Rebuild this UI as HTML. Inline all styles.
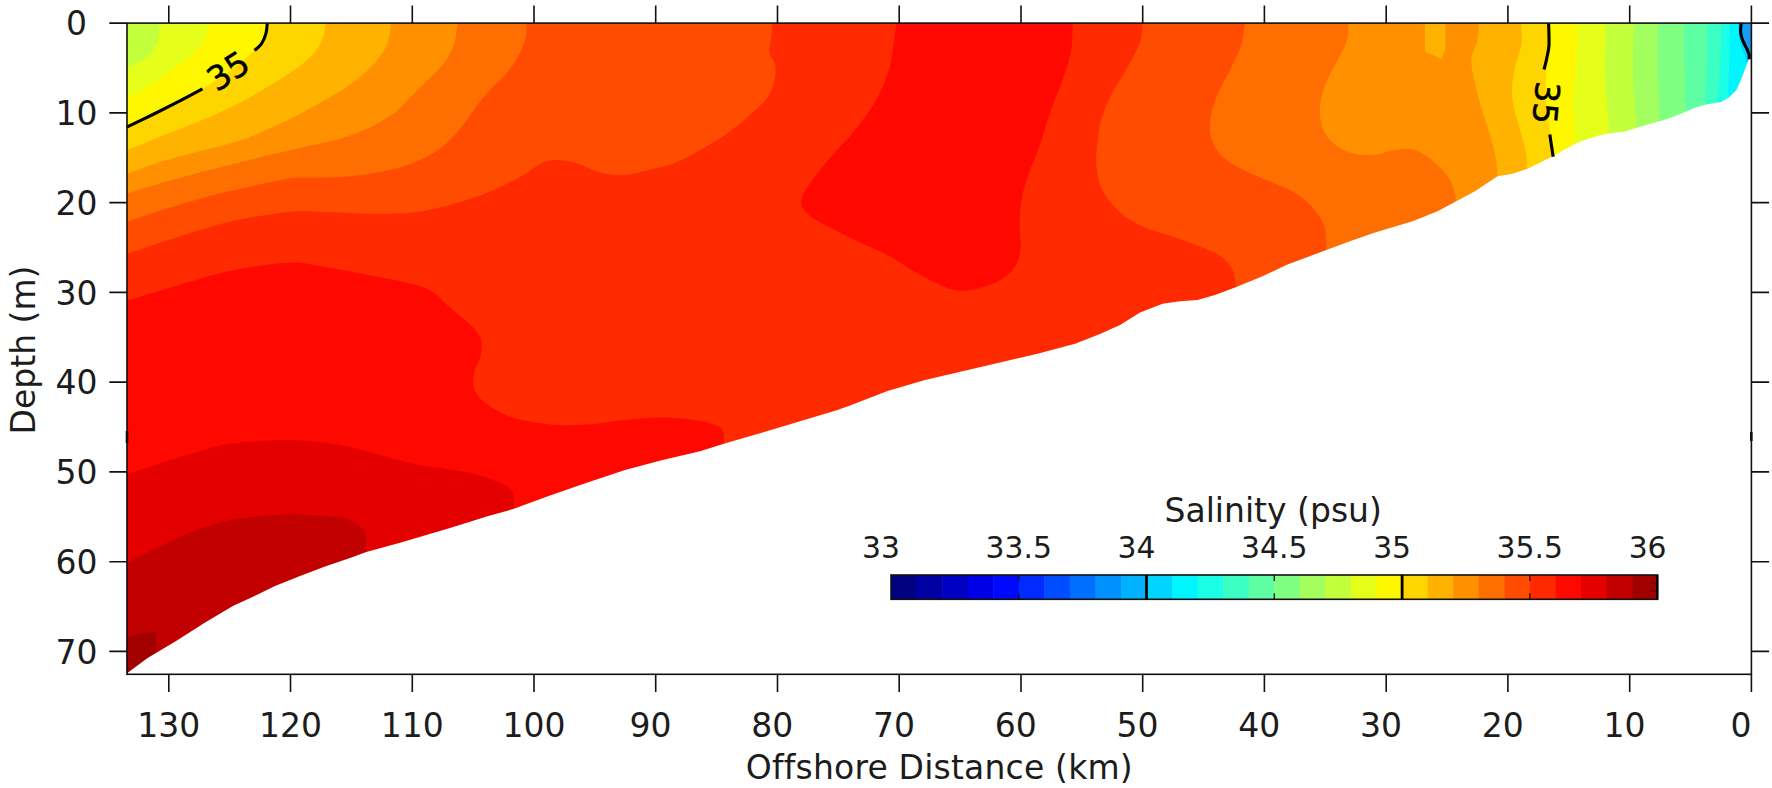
<!DOCTYPE html>
<html><head><meta charset="utf-8"><title>Salinity section</title>
<style>
html,body{margin:0;padding:0;background:#fff;}
body{width:1772px;height:788px;overflow:hidden;}
svg{display:block;}
text{font-family:"DejaVu Sans","Liberation Sans",sans-serif;font-size:33px;fill:#1c1c1c;}
</style></head><body>
<svg width="1772" height="788" viewBox="0 0 1772 788">
<rect width="1772" height="788" fill="#fff"/>
<g>
<rect x="100" y="0" width="1700" height="700" fill="#FF2A00"/>
<path d="M126.7 300.5C132.7 298.8 150.3 293.6 162.5 290.0C174.7 286.4 187.5 282.2 200.0 278.8C212.5 275.4 222.5 272.2 237.5 269.5C252.5 266.8 275.4 262.9 290.0 262.5C304.6 262.1 310.8 264.7 325.0 267.0C339.2 269.3 358.3 272.8 375.0 276.3C391.7 279.8 412.5 282.8 425.0 288.0C437.5 293.2 441.2 300.1 450.0 307.5C458.8 314.9 472.3 325.0 477.5 332.5C482.7 340.0 481.9 345.6 481.3 352.5C480.7 359.4 474.9 367.4 473.8 373.8C472.8 380.2 472.6 385.8 475.0 391.0C477.4 396.2 481.8 400.6 488.0 405.0C494.2 409.4 502.2 414.2 512.5 417.5C522.8 420.8 537.5 423.3 550.0 424.5C562.5 425.7 575.0 425.2 587.5 424.5C600.0 423.8 612.5 421.2 625.0 420.0C637.5 418.8 650.8 417.5 662.5 417.5C674.2 417.5 686.2 418.8 695.0 420.0C703.8 421.2 710.4 423.3 715.0 425.0C719.6 426.7 721.0 427.1 722.5 430.0C724.0 432.9 723.6 439.2 723.8 442.5C724.0 445.8 723.8 448.8 723.8 450.0L723.8 720.0L107.0 720.0L107.0 300.5Z" fill="#FF0800"/>
<path d="M126.7 474.5C132.7 472.5 150.3 466.4 162.5 462.5C174.7 458.6 188.8 454.4 200.0 451.3C211.2 448.2 215.4 445.7 230.0 443.8C244.6 441.9 269.6 439.9 287.5 440.0C305.4 440.1 322.9 442.2 337.5 444.5C352.1 446.8 362.5 450.6 375.0 453.8C387.5 457.0 400.0 461.2 412.5 463.8C425.0 466.4 439.6 467.8 450.0 469.5C460.4 471.2 466.7 471.8 475.0 474.0C483.3 476.2 493.8 480.1 500.0 483.0C506.2 485.9 510.2 488.2 512.5 491.5C514.8 494.8 513.6 498.6 513.8 502.5C514.0 506.4 513.8 512.9 513.8 515.0L513.8 720.0L107.0 720.0L107.0 474.5Z" fill="#E50000"/>
<path d="M126.7 563.0C132.7 560.0 150.3 550.7 162.5 545.0C174.7 539.3 187.5 533.2 200.0 528.8C212.5 524.4 222.9 521.2 237.5 518.8C252.1 516.4 270.8 514.8 287.5 514.5C304.2 514.2 326.2 515.7 337.5 517.0C348.8 518.3 350.4 519.9 355.0 522.5C359.6 525.1 363.1 528.8 365.0 532.5C366.9 536.2 366.1 540.8 366.3 545.0C366.5 549.2 366.3 555.8 366.3 558.0L366.3 720.0L107.0 720.0L107.0 563.0Z" fill="#C30000"/>
<path d="M126.7 637.0C128.6 636.5 133.2 635.0 138.0 634.2C142.8 633.4 152.2 631.5 155.2 632.3C158.2 633.1 156.0 634.4 156.2 639.0C156.4 643.6 156.2 656.5 156.2 660.0L156.2 720.0L107.0 720.0L107.0 637.0Z" fill="#A20000"/>
<path d="M896.3 23.0C895.9 26.2 895.0 34.7 893.8 42.5C892.6 50.3 892.1 60.1 889.0 70.0C885.9 79.9 880.7 92.0 875.0 102.0C869.3 112.0 862.1 121.2 855.0 130.0C847.9 138.8 839.6 146.7 832.5 155.0C825.4 163.3 817.7 172.5 812.5 180.0C807.3 187.5 802.1 194.4 801.3 200.0C800.5 205.6 803.5 209.6 807.5 213.8C811.5 218.0 815.8 220.0 825.0 225.0C834.2 230.0 852.1 238.8 862.5 243.8C872.9 248.8 877.1 249.4 887.5 255.0C897.9 260.6 913.3 271.6 925.0 277.5C936.7 283.4 946.7 289.2 957.5 290.5C968.3 291.8 980.8 288.4 990.0 285.0C999.2 281.6 1007.4 275.8 1012.5 270.0C1017.6 264.2 1019.3 257.9 1020.5 250.0C1021.7 242.1 1019.2 231.7 1019.5 222.5C1019.8 213.3 1020.8 203.8 1022.5 195.0C1024.2 186.2 1027.1 178.3 1030.0 170.0C1032.9 161.7 1036.7 154.6 1040.0 145.0C1043.3 135.4 1046.2 123.3 1050.0 112.5C1053.8 101.7 1059.0 90.4 1062.5 80.0C1066.0 69.6 1069.6 59.5 1071.3 50.0C1073.0 40.5 1072.3 27.5 1072.5 23.0L1072.5 0.0L896.3 0.0Z" fill="#FF0800"/>
<path d="M126.7 254.0C132.7 252.0 150.3 246.0 162.5 242.0C174.7 238.0 187.5 233.7 200.0 230.0C212.5 226.3 225.0 222.7 237.5 220.0C250.0 217.3 264.6 215.2 275.0 213.8C285.4 212.4 289.6 211.5 300.0 211.3C310.4 211.1 325.0 212.1 337.5 212.5C350.0 212.9 362.5 213.8 375.0 213.8C387.5 213.8 400.0 214.0 412.5 212.5C425.0 211.0 437.5 208.3 450.0 205.0C462.5 201.7 475.8 197.2 487.5 192.5C499.2 187.8 510.2 182.2 520.0 177.0C529.8 171.8 537.8 163.8 546.5 161.3C555.2 158.8 563.6 160.1 572.5 162.0C581.4 163.9 591.2 170.3 600.0 172.5C608.8 174.7 616.7 175.5 625.0 175.0C633.3 174.5 641.7 171.5 650.0 169.5C658.3 167.5 666.7 166.2 675.0 163.0C683.3 159.8 691.7 154.7 700.0 150.0C708.3 145.3 716.7 140.8 725.0 135.0C733.3 129.2 742.9 121.2 750.0 115.0C757.1 108.8 763.4 103.3 767.5 97.5C771.6 91.7 773.2 85.4 774.5 80.0C775.8 74.6 775.8 69.6 775.0 65.0C774.2 60.4 770.1 57.1 769.5 52.5C768.9 47.9 770.8 42.4 771.3 37.5C771.8 32.6 772.3 25.4 772.5 23.0L772.5 0.0L107.0 0.0L107.0 254.0Z" fill="#FF4C00"/>
<path d="M126.7 222.0C132.7 220.0 150.3 213.9 162.5 210.0C174.7 206.1 187.1 202.3 200.0 198.8C212.9 195.3 227.5 191.7 240.0 188.8C252.5 185.9 265.8 183.1 275.0 181.3C284.2 179.5 286.7 178.6 295.0 178.0C303.3 177.4 313.8 178.0 325.0 177.5C336.2 177.0 350.0 176.7 362.5 175.0C375.0 173.3 388.8 170.8 400.0 167.5C411.2 164.2 421.7 159.6 430.0 155.0C438.3 150.4 444.2 145.4 450.0 140.0C455.8 134.6 460.4 128.3 465.0 122.5C469.6 116.7 473.3 110.4 477.5 105.0C481.7 99.6 485.4 95.0 490.0 90.0C494.6 85.0 500.4 80.4 505.0 75.0C509.6 69.6 514.2 63.3 517.5 57.5C520.8 51.7 523.5 45.8 525.0 40.0C526.5 34.2 526.2 25.8 526.5 23.0L526.5 0.0L107.0 0.0L107.0 222.0Z" fill="#FF6E00"/>
<path d="M126.7 193.8C132.7 191.9 150.3 186.1 162.5 182.5C174.7 178.9 187.1 175.8 200.0 172.5C212.9 169.2 226.7 165.8 240.0 162.5C253.3 159.2 267.9 155.4 280.0 152.5C292.1 149.6 302.5 147.3 312.5 145.0C322.5 142.7 330.4 141.7 340.0 138.8C349.6 135.9 360.8 131.9 370.0 127.5C379.2 123.1 388.8 117.1 395.0 112.5C401.2 107.9 402.5 105.0 407.5 100.0C412.5 95.0 419.2 88.3 425.0 82.5C430.8 76.7 437.7 71.2 442.5 65.0C447.3 58.8 451.3 52.0 453.8 45.0C456.3 38.0 456.9 26.7 457.5 23.0L457.5 0.0L107.0 0.0L107.0 193.8Z" fill="#FF9100"/>
<path d="M126.7 173.8C132.7 171.7 150.3 165.1 162.5 161.3C174.7 157.5 190.2 153.6 200.0 151.0C209.8 148.4 213.8 148.2 221.6 146.0C229.4 143.8 238.5 141.2 247.0 138.0C255.5 134.8 263.9 130.8 272.4 127.0C280.9 123.2 289.4 119.3 297.8 115.0C306.2 110.7 315.2 105.5 323.1 101.0C331.0 96.5 338.1 92.8 345.2 88.0C352.3 83.2 359.6 77.4 365.5 72.0C371.4 66.6 376.9 60.9 380.7 55.6C384.5 50.3 386.6 45.8 388.3 40.4C390.0 35.0 390.5 25.9 390.9 23.0L390.9 0.0L107.0 0.0L107.0 173.8Z" fill="#FFB300"/>
<path d="M126.7 150.5C130.1 149.1 139.7 145.0 147.0 142.0C154.3 139.0 162.6 135.8 170.8 132.5C179.0 129.2 187.7 126.0 196.2 122.5C204.7 119.0 213.1 115.4 221.6 111.5C230.1 107.6 238.5 103.6 247.0 99.0C255.5 94.4 263.9 89.2 272.4 84.0C280.9 78.8 290.8 72.8 297.8 67.5C304.9 62.2 310.5 57.3 314.7 52.2C318.9 47.1 321.3 41.9 323.1 37.0C324.9 32.1 325.3 25.3 325.7 23.0L325.7 0.0L107.0 0.0L107.0 150.5Z" fill="#FFD500"/>
<path d="M126.7 127.2C131.2 125.0 145.1 118.3 153.9 114.0C162.7 109.7 171.3 105.4 179.3 101.2C187.3 97.0 193.9 93.9 202.1 89.0C210.3 84.1 219.6 78.4 228.3 72.0C237.1 65.6 249.1 55.2 254.6 50.5C260.1 45.8 259.5 46.6 261.4 43.8C263.3 41.0 264.9 37.1 265.9 33.6C266.9 30.1 267.1 24.8 267.3 23.0L267.3 0.0L107.0 0.0L107.0 127.2Z" fill="#FFF700"/>
<path d="M126.7 99.0C128.4 98.0 132.5 95.6 137.0 92.9C141.5 90.2 148.3 86.4 153.9 82.7C159.5 79.0 165.8 74.6 170.8 70.9C175.8 67.2 179.8 64.1 184.0 60.7C188.2 57.3 192.4 54.5 196.0 50.5C199.6 46.5 203.5 41.6 205.5 37.0C207.5 32.4 207.6 25.3 208.0 23.0L208.0 0.0L107.0 0.0L107.0 99.0Z" fill="#E5FF1A"/>
<path d="M126.7 67.0C127.2 66.8 127.5 67.0 130.0 66.0C132.6 65.0 138.3 63.0 142.0 60.7C145.7 58.4 149.3 55.4 152.0 52.0C154.7 48.6 156.7 45.2 158.0 40.4C159.3 35.6 159.5 25.9 159.8 23.0L159.8 0.0L107.0 0.0L107.0 67.0Z" fill="#C3FF3C"/>
<path d="M1142.5 23.0C1142.1 26.2 1142.5 35.1 1140.0 42.5C1137.5 49.9 1132.5 58.3 1127.5 67.5C1122.5 76.7 1114.6 87.9 1110.0 97.5C1105.4 107.1 1102.2 115.4 1100.0 125.0C1097.8 134.6 1097.0 147.5 1096.5 155.0C1096.0 162.5 1096.0 164.2 1097.0 170.0C1098.0 175.8 1098.7 182.9 1102.5 190.0C1106.3 197.1 1112.9 206.2 1120.0 212.5C1127.1 218.8 1135.8 223.3 1145.0 227.5C1154.2 231.7 1165.0 234.0 1175.0 237.5C1185.0 241.0 1197.2 245.2 1205.0 248.5C1212.8 251.8 1217.4 253.4 1222.0 257.0C1226.6 260.6 1230.2 265.3 1232.5 270.0C1234.8 274.7 1235.4 280.8 1236.0 285.0C1236.6 289.2 1236.0 293.3 1236.0 295.0L1236.0 720.0L1800.0 720.0L1800.0 0.0L1142.5 0.0Z" fill="#FF4C00"/>
<path d="M1245.0 23.0C1244.4 26.7 1243.8 37.2 1241.3 45.0C1238.8 52.8 1234.2 61.2 1230.0 70.0C1225.8 78.8 1219.6 88.8 1216.3 97.5C1213.0 106.2 1210.4 114.6 1210.0 122.5C1209.6 130.4 1210.5 138.3 1213.8 145.0C1217.1 151.7 1222.3 157.1 1230.0 162.5C1237.7 167.9 1249.6 172.7 1260.0 177.5C1270.4 182.3 1283.8 186.5 1292.5 191.5C1301.2 196.5 1307.3 201.9 1312.5 207.5C1317.7 213.1 1321.5 219.2 1323.8 225.0C1326.1 230.8 1325.9 237.0 1326.3 242.5C1326.7 248.0 1326.3 255.4 1326.3 258.0L1326.3 720.0L1800.0 720.0L1800.0 0.0L1245.0 0.0Z" fill="#FF6E00"/>
<path d="M1348.8 23.0C1348.4 26.2 1348.4 35.9 1346.3 42.5C1344.2 49.1 1339.8 55.4 1336.3 62.5C1332.8 69.6 1327.7 77.5 1325.0 85.0C1322.3 92.5 1320.4 100.4 1320.0 107.5C1319.6 114.6 1320.4 121.7 1322.5 127.5C1324.6 133.3 1327.9 138.3 1332.5 142.5C1337.1 146.7 1343.3 150.4 1350.0 152.5C1356.7 154.6 1365.0 155.4 1372.5 155.0C1380.0 154.6 1388.3 150.9 1395.0 150.0C1401.7 149.1 1407.5 148.7 1412.5 149.5C1417.5 150.3 1420.4 152.0 1425.0 155.0C1429.6 158.0 1435.8 163.3 1440.0 167.5C1444.2 171.7 1447.5 175.4 1450.0 180.0C1452.5 184.6 1454.0 190.0 1455.0 195.0C1456.0 200.0 1456.1 207.5 1456.3 210.0L1456.3 720.0L1800.0 720.0L1800.0 0.0L1348.8 0.0Z" fill="#FF9100"/>
<path d="M1425.0 23.0L1445.2 23.0L1445.2 50.0L1441.3 58.8L1425.0 51.5Z" fill="#FFB300"/>
<path d="M1478.8 23.0C1478.6 25.8 1478.8 33.8 1477.5 40.0C1476.2 46.2 1471.7 52.9 1471.3 60.0C1470.9 67.1 1473.3 74.6 1475.0 82.5C1476.7 90.4 1478.8 98.8 1481.3 107.5C1483.8 116.2 1487.5 126.2 1490.0 135.0C1492.5 143.8 1495.0 151.7 1496.3 160.0C1497.5 168.3 1497.3 180.8 1497.5 185.0L1497.5 720.0L1800.0 720.0L1800.0 0.0L1478.8 0.0Z" fill="#FFB300"/>
<path d="M1521.3 23.0C1521.3 26.7 1522.5 36.8 1521.3 45.0C1520.0 53.2 1515.3 63.3 1513.8 72.5C1512.3 81.7 1511.5 90.4 1512.5 100.0C1513.5 109.6 1517.7 120.8 1520.0 130.0C1522.3 139.2 1525.0 146.7 1526.3 155.0C1527.5 163.3 1527.3 175.8 1527.5 180.0L1527.5 720.0L1800.0 720.0L1800.0 0.0L1521.3 0.0Z" fill="#FFD500"/>
<path d="M1548.8 23.0C1548.9 26.7 1549.9 36.8 1549.5 45.0C1549.1 53.2 1547.1 62.8 1546.5 72.0C1545.9 81.2 1545.3 89.7 1546.0 100.0C1546.7 110.3 1549.3 124.4 1550.5 133.8C1551.7 143.2 1552.6 151.1 1553.0 156.3C1553.4 161.5 1553.0 163.6 1553.0 165.0L1553.0 720.0L1800.0 720.0L1800.0 0.0L1548.8 0.0Z" fill="#FFF700"/>
<path d="M1577.5 23.0C1577.3 29.6 1577.1 49.7 1576.3 62.5C1575.5 75.3 1572.7 88.8 1572.5 100.0C1572.3 111.2 1574.6 121.7 1575.0 130.0C1575.4 138.3 1575.0 146.7 1575.0 150.0L1575.0 720.0L1800.0 720.0L1800.0 0.0L1577.5 0.0Z" fill="#E5FF1A"/>
<path d="M1606.3 23.0C1606.1 31.7 1604.6 58.0 1605.0 75.0C1605.4 92.0 1608.2 114.2 1608.8 125.0C1609.4 135.8 1608.8 137.5 1608.8 140.0L1608.8 720.0L1800.0 720.0L1800.0 0.0L1606.3 0.0Z" fill="#C3FF3C"/>
<path d="M1634.0 23.0C1633.8 31.7 1632.6 58.0 1633.0 75.0C1633.4 92.0 1635.8 115.0 1636.3 125.0C1636.8 135.0 1636.3 133.3 1636.3 135.0L1636.3 720.0L1800.0 720.0L1800.0 0.0L1634.0 0.0Z" fill="#A2FF5E"/>
<path d="M1657.8 23.0C1657.8 31.7 1657.1 58.0 1657.5 75.0C1657.9 92.0 1659.6 116.7 1660.0 125.0L1660.0 720.0L1800.0 720.0L1800.0 0.0L1657.8 0.0Z" fill="#80FF80"/>
<path d="M1684.0 23.0C1684.1 30.8 1684.2 54.2 1684.5 70.0C1684.8 85.8 1685.8 110.0 1686.0 118.0L1686.0 720.0L1800.0 720.0L1800.0 0.0L1684.0 0.0Z" fill="#5EFFA2"/>
<path d="M1706.9 23.0C1706.8 29.2 1706.8 45.8 1706.5 60.0C1706.2 74.2 1705.2 100.0 1705.0 108.0L1705.0 720.0L1800.0 720.0L1800.0 0.0L1706.9 0.0Z" fill="#3CFFC3"/>
<path d="M1721.7 23.0C1721.5 29.2 1721.3 46.5 1720.5 60.0C1719.7 73.5 1717.6 96.7 1717.0 104.0L1717.0 720.0L1800.0 720.0L1800.0 0.0L1721.7 0.0Z" fill="#1AFFE5"/>
<path d="M1729.7 23.0C1729.7 28.3 1729.8 42.2 1729.5 55.0C1729.2 67.8 1728.2 92.5 1728.0 100.0L1728.0 720.0L1800.0 720.0L1800.0 0.0L1729.7 0.0Z" fill="#00F6FF"/>
<path d="M1738.6 23.0C1738.6 25.0 1738.2 31.2 1738.6 35.0C1739.0 38.8 1739.9 42.3 1741.0 46.0C1742.1 49.7 1744.0 53.7 1745.0 57.0C1746.0 60.3 1746.7 64.5 1747.0 66.0L1747.0 720.0L1800.0 720.0L1800.0 0.0L1738.6 0.0Z" fill="#00D4FF"/>
<path d="M1741.1 23.0C1741.0 24.6 1740.4 29.9 1740.7 32.9C1741.0 35.9 1741.9 38.2 1742.9 40.9C1743.9 43.6 1745.9 46.6 1746.9 48.9C1747.9 51.2 1748.7 52.9 1749.1 54.6C1749.5 56.3 1749.2 58.5 1749.2 59.3L1749.2 720.0L1800.0 720.0L1800.0 0.0L1741.1 0.0Z" fill="#1A9BF6"/>
</g>
<path d="M-10 -10H1790V800H-10Z M127.0 23.1L1751.4 23.1L1751.4 53.0L1751.4 53.0L1748.5 60.0L1745.3 68.3L1741.5 78.5L1736.5 89.9L1728.8 97.5L1721.2 101.9L1706.0 104.5L1694.6 107.7L1681.7 113.5L1666.5 119.3L1643.9 125.5L1625.0 131.4L1604.5 134.0L1587.6 139.0L1575.0 143.8L1553.0 156.3L1527.5 168.8L1512.5 173.8L1497.5 176.3L1475.0 191.3L1456.3 201.3L1437.5 211.3L1412.5 221.3L1375.0 232.5L1350.0 241.3L1326.3 250.0L1287.5 264.5L1262.5 276.3L1236.3 287.0L1215.0 295.0L1197.5 300.0L1180.0 301.3L1162.5 303.8L1140.0 312.5L1120.0 325.0L1100.0 334.0L1075.0 343.8L1037.5 353.8L1000.0 362.5L962.5 371.3L925.0 380.0L887.5 391.0L850.0 405.5L837.5 410.0L800.0 421.3L762.5 432.5L723.8 443.8L700.0 451.3L662.5 460.0L625.0 470.0L587.5 482.5L550.0 495.5L513.8 508.8L487.5 516.3L450.0 528.0L400.0 542.7L366.3 552.0L350.0 558.0L325.0 566.5L300.0 576.0L275.0 586.0L252.5 597.0L233.3 605.7L204.7 622.8L176.1 640.9L147.6 658.0L126.7 673.5Z" fill="#fff" fill-rule="evenodd"/>
<g><path d="M126.7 127.2C131.2 125.0 145.1 118.3 153.9 114.0C162.7 109.7 171.2 105.4 179.3 101.2C187.4 97.0 198.6 90.9 202.5 88.8" fill="none" stroke="#000" stroke-width="3.1"/>
<path d="M254.6 50.5C255.7 49.4 259.5 46.6 261.4 43.8C263.3 41.0 264.9 37.1 265.9 33.6C266.9 30.1 267.1 24.8 267.3 23.0" fill="none" stroke="#000" stroke-width="3.1"/>
<path d="M1548.6 23.0C1548.7 26.7 1549.3 39.2 1549.0 45.0C1548.7 50.8 1547.6 53.9 1546.8 58.0C1546.0 62.1 1544.5 67.6 1544.0 69.5" fill="none" stroke="#000" stroke-width="3.1"/>
<path d="M1549.8 134.5C1550.4 138.2 1552.6 153.1 1553.2 156.8" fill="none" stroke="#000" stroke-width="3.1"/>
<path d="M1741.1 23.0C1741.0 24.6 1740.4 29.9 1740.7 32.9C1741.0 35.9 1741.9 38.2 1742.9 40.9C1743.9 43.6 1745.9 46.6 1746.9 48.9C1747.9 51.2 1748.7 52.9 1749.1 54.6C1749.5 56.3 1749.2 58.5 1749.2 59.3" fill="none" stroke="#000" stroke-width="3.1"/></g>
<g><rect x="127.0" y="23.1" width="1624.4" height="651.2" fill="none" stroke="#111" stroke-width="1.6"/>
<path d="M1751.4 23.1V5.4M1751.4 674.3V692.0" stroke="#111" stroke-width="1.6"/>
<path d="M1629.7 23.1V5.4M1629.7 674.3V692.0" stroke="#111" stroke-width="1.6"/>
<path d="M1507.9 23.1V5.4M1507.9 674.3V692.0" stroke="#111" stroke-width="1.6"/>
<path d="M1386.2 23.1V5.4M1386.2 674.3V692.0" stroke="#111" stroke-width="1.6"/>
<path d="M1264.4 23.1V5.4M1264.4 674.3V692.0" stroke="#111" stroke-width="1.6"/>
<path d="M1142.7 23.1V5.4M1142.7 674.3V692.0" stroke="#111" stroke-width="1.6"/>
<path d="M1021.0 23.1V5.4M1021.0 674.3V692.0" stroke="#111" stroke-width="1.6"/>
<path d="M899.2 23.1V5.4M899.2 674.3V692.0" stroke="#111" stroke-width="1.6"/>
<path d="M777.5 23.1V5.4M777.5 674.3V692.0" stroke="#111" stroke-width="1.6"/>
<path d="M655.7 23.1V5.4M655.7 674.3V692.0" stroke="#111" stroke-width="1.6"/>
<path d="M534.0 23.1V5.4M534.0 674.3V692.0" stroke="#111" stroke-width="1.6"/>
<path d="M412.3 23.1V5.4M412.3 674.3V692.0" stroke="#111" stroke-width="1.6"/>
<path d="M290.5 23.1V5.4M290.5 674.3V692.0" stroke="#111" stroke-width="1.6"/>
<path d="M168.8 23.1V5.4M168.8 674.3V692.0" stroke="#111" stroke-width="1.6"/>
<path d="M127.0 23.1H109.3M1751.4 23.1H1769.1" stroke="#111" stroke-width="1.6"/>
<path d="M127.0 112.9H109.3M1751.4 112.9H1769.1" stroke="#111" stroke-width="1.6"/>
<path d="M127.0 202.6H109.3M1751.4 202.6H1769.1" stroke="#111" stroke-width="1.6"/>
<path d="M127.0 292.4H109.3M1751.4 292.4H1769.1" stroke="#111" stroke-width="1.6"/>
<path d="M127.0 382.1H109.3M1751.4 382.1H1769.1" stroke="#111" stroke-width="1.6"/>
<path d="M127.0 471.9H109.3M1751.4 471.9H1769.1" stroke="#111" stroke-width="1.6"/>
<path d="M127.0 561.7H109.3M1751.4 561.7H1769.1" stroke="#111" stroke-width="1.6"/>
<path d="M127.0 651.4H109.3M1751.4 651.4H1769.1" stroke="#111" stroke-width="1.6"/>
<rect x="125.7" y="431" width="2.6" height="12" fill="#111"/>
<rect x="1750" y="432" width="2.6" height="9" fill="#111"/></g>
<g><rect x="891.00" y="575.0" width="26.05" height="24.3" fill="#000080"/>
<rect x="916.55" y="575.0" width="26.05" height="24.3" fill="#0000A2"/>
<rect x="942.11" y="575.0" width="26.05" height="24.3" fill="#0000C3"/>
<rect x="967.66" y="575.0" width="26.05" height="24.3" fill="#0000E6"/>
<rect x="993.21" y="575.0" width="26.05" height="24.3" fill="#0008FF"/>
<rect x="1018.77" y="575.0" width="26.05" height="24.3" fill="#002AFF"/>
<rect x="1044.32" y="575.0" width="26.05" height="24.3" fill="#004DFF"/>
<rect x="1069.87" y="575.0" width="26.05" height="24.3" fill="#006EFF"/>
<rect x="1095.43" y="575.0" width="26.05" height="24.3" fill="#0090FF"/>
<rect x="1120.98" y="575.0" width="26.05" height="24.3" fill="#00B2FF"/>
<rect x="1146.53" y="575.0" width="26.05" height="24.3" fill="#00D4FF"/>
<rect x="1172.09" y="575.0" width="26.05" height="24.3" fill="#00F6FF"/>
<rect x="1197.64" y="575.0" width="26.05" height="24.3" fill="#1AFFE5"/>
<rect x="1223.19" y="575.0" width="26.05" height="24.3" fill="#3CFFC3"/>
<rect x="1248.75" y="575.0" width="26.05" height="24.3" fill="#5EFFA2"/>
<rect x="1274.30" y="575.0" width="26.05" height="24.3" fill="#80FF80"/>
<rect x="1299.85" y="575.0" width="26.05" height="24.3" fill="#A2FF5E"/>
<rect x="1325.41" y="575.0" width="26.05" height="24.3" fill="#C3FF3C"/>
<rect x="1350.96" y="575.0" width="26.05" height="24.3" fill="#E5FF1A"/>
<rect x="1376.51" y="575.0" width="26.05" height="24.3" fill="#FFF700"/>
<rect x="1402.07" y="575.0" width="26.05" height="24.3" fill="#FFD500"/>
<rect x="1427.62" y="575.0" width="26.05" height="24.3" fill="#FFB300"/>
<rect x="1453.17" y="575.0" width="26.05" height="24.3" fill="#FF9100"/>
<rect x="1478.73" y="575.0" width="26.05" height="24.3" fill="#FF6E00"/>
<rect x="1504.28" y="575.0" width="26.05" height="24.3" fill="#FF4C00"/>
<rect x="1529.83" y="575.0" width="26.05" height="24.3" fill="#FF2A00"/>
<rect x="1555.39" y="575.0" width="26.05" height="24.3" fill="#FF0800"/>
<rect x="1580.94" y="575.0" width="26.05" height="24.3" fill="#E50000"/>
<rect x="1606.49" y="575.0" width="26.05" height="24.3" fill="#C30000"/>
<rect x="1632.05" y="575.0" width="25.55" height="24.3" fill="#A20000"/>
<rect x="891.0" y="575.0" width="766.6" height="24.3" fill="none" stroke="#111" stroke-width="1.6"/>
<path d="M1018.8 575.0V581.0M1018.8 599.3V593.3" stroke="#111" stroke-width="1.3"/>
<path d="M1146.5 575.0V599.3" stroke="#000" stroke-width="2.8"/>
<path d="M1274.3 575.0V581.0M1274.3 599.3V593.3" stroke="#111" stroke-width="1.3"/>
<path d="M1402.1 575.0V599.3" stroke="#000" stroke-width="2.8"/>
<path d="M1529.8 575.0V581.0M1529.8 599.3V593.3" stroke="#111" stroke-width="1.3"/>
<path d="M1657.3 575.0V599.3" stroke="#000" stroke-width="2.0"/>
<path d="M892.0 583H899.0M892.0 591H899.0" stroke="#00004d" stroke-width="1"/>
<path d="M1649.6 583H1656.6M1649.6 591H1656.6" stroke="#4d0000" stroke-width="1"/></g>
<g><text x="87.1" y="35.3" text-anchor="end">0</text>
<text x="97.6" y="125.1" text-anchor="end">10</text>
<text x="97.6" y="214.8" text-anchor="end">20</text>
<text x="97.6" y="304.6" text-anchor="end">30</text>
<text x="97.6" y="394.3" text-anchor="end">40</text>
<text x="97.6" y="484.1" text-anchor="end">50</text>
<text x="97.6" y="573.9" text-anchor="end">60</text>
<text x="97.6" y="663.6" text-anchor="end">70</text>
<text x="1740.9" y="736.5" text-anchor="middle">0</text>
<text x="1624.4" y="736.5" text-anchor="middle">10</text>
<text x="1502.7" y="736.5" text-anchor="middle">20</text>
<text x="1380.9" y="736.5" text-anchor="middle">30</text>
<text x="1259.2" y="736.5" text-anchor="middle">40</text>
<text x="1137.5" y="736.5" text-anchor="middle">50</text>
<text x="1015.7" y="736.5" text-anchor="middle">60</text>
<text x="894.0" y="736.5" text-anchor="middle">70</text>
<text x="772.2" y="736.5" text-anchor="middle">80</text>
<text x="650.5" y="736.5" text-anchor="middle">90</text>
<text x="534.0" y="736.5" text-anchor="middle">100</text>
<text x="412.3" y="736.5" text-anchor="middle">110</text>
<text x="290.5" y="736.5" text-anchor="middle">120</text>
<text x="168.8" y="736.5" text-anchor="middle">130</text>
<text x="939.3" y="778.7" text-anchor="middle" style="letter-spacing:0.19px">Offshore Distance (km)</text>
<text transform="translate(35.4,350) rotate(-90)" text-anchor="middle">Depth (m)</text>
<text x="1273.2" y="521.6" text-anchor="middle">Salinity (psu)</text>
<text x="881.0" y="558" text-anchor="middle" style="font-size:29.8px">33</text>
<text x="1018.8" y="558" text-anchor="middle" style="font-size:29.8px">33.5</text>
<text x="1136.5" y="558" text-anchor="middle" style="font-size:29.8px">34</text>
<text x="1274.3" y="558" text-anchor="middle" style="font-size:29.8px">34.5</text>
<text x="1392.1" y="558" text-anchor="middle" style="font-size:29.8px">35</text>
<text x="1529.8" y="558" text-anchor="middle" style="font-size:29.8px">35.5</text>
<text x="1647.6" y="558" text-anchor="middle" style="font-size:29.8px">36</text></g>
<g><text transform="translate(228.6,71.6) rotate(-33)" text-anchor="middle" y="11" style="font-size:33.5px;fill:#000;stroke:#000;stroke-width:0.45px">35</text>
<text transform="translate(1545.3,102.6) rotate(95)" text-anchor="middle" y="11" style="font-size:33.5px;fill:#000;stroke:#000;stroke-width:0.45px">35</text></g>
</svg>
</body></html>
